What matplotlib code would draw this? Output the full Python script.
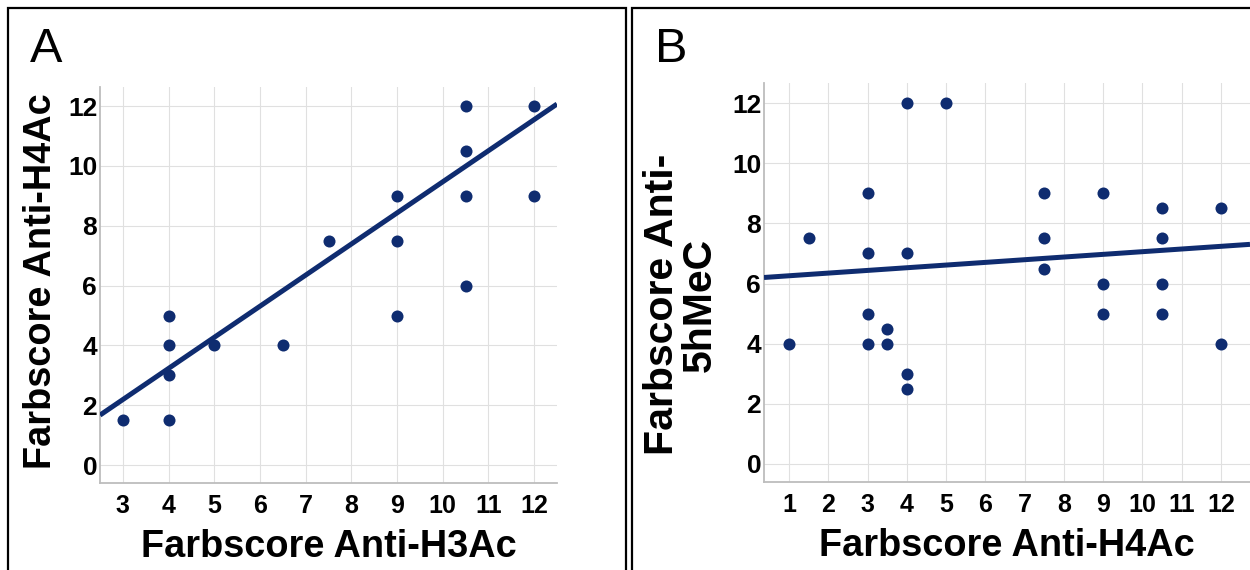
import matplotlib
matplotlib.use("Agg")
import matplotlib.pyplot as plt
from matplotlib.patches import Rectangle
import numpy as np

# ---- data ----
a_x = [3, 4, 4, 4, 4, 5, 6.5, 7.5, 9, 9, 9, 10.5, 10.5, 10.5, 10.5, 12, 12]
a_y = [1.5, 5, 4, 3, 1.5, 4, 4, 7.5, 9, 7.5, 5, 12, 10.5, 9, 6, 12, 9]
a_fit = [-0.93, 1.04]          # intercept, slope
a_xticks = [3, 4, 5, 6, 7, 8, 9, 10, 11, 12]
a_yticks = [0, 2, 4, 6, 8, 10, 12]
a_xlabel = "Farbscore Anti-H3Ac"
a_ylabel = "Farbscore Anti-H4Ac"

b_x = [1, 1.5, 3, 3, 3, 3, 3.5, 3.5, 4, 4, 4, 4, 5, 7.5, 7.5, 7.5, 9, 9, 9,
       10.5, 10.5, 10.5, 10.5, 12, 12]
b_y = [4, 7.5, 9, 7, 5, 4, 4.5, 4, 12, 7, 3, 2.5, 12, 9, 7.5, 6.5, 9, 6, 5,
       8.5, 7.5, 6, 5, 8.5, 4]
b_fit = [6.17, 0.089]
b_xticks = [1, 2, 3, 4, 5, 6, 7, 8, 9, 10, 11, 12]
b_yticks = [0, 2, 4, 6, 8, 10, 12]
b_xlabel = "Farbscore Anti-H4Ac"
b_ylabel = "Farbscore Anti-\n5hMeC"

NAVY = "#0f2c70"
GRID = "#e0e0e0"
SPINE = "#bdbdbd"
FONT = "Liberation Sans"

W, H = 1250, 570
fig = plt.figure(figsize=(12.5, 5.7), dpi=100)
plt.rcParams['font.family'] = [FONT, 'DejaVu Sans']


def px_rect(l, t, r, b):
    return [l / W, 1 - b / H, (r - l) / W, (b - t) / H]


def style(ax, xs, ys, fit, xticks, yticks, xlim, ylim, xlabel, ylabel,
          ylab_x, ylab_y, ylab_size):
    ax.set_xlim(*xlim)
    ax.set_ylim(*ylim)
    ax.set_xticks(xticks)
    ax.set_yticks(yticks)
    ax.grid(True, color=GRID, lw=0.8, zorder=0)
    ax.set_axisbelow(True)
    for s in ("top", "right"):
        ax.spines[s].set_visible(False)
    for s in ("left", "bottom"):
        ax.spines[s].set_color(SPINE)
        ax.spines[s].set_linewidth(1.3)
    ax.tick_params(length=0, pad=2)
    ax.tick_params(axis="x", labelsize=18, pad=8)
    ax.tick_params(axis="y", labelsize=19)
    for lab in ax.get_xticklabels() + ax.get_yticklabels():
        lab.set_fontweight("bold")
    ax.scatter(xs, ys, s=75, color=NAVY, zorder=3, linewidths=0)
    lx = np.array(xlim)
    ax.plot(lx, fit[0] + fit[1] * lx, color=NAVY, lw=3.6, zorder=4,
            solid_capstyle="butt")
    ax.set_xlabel(xlabel, fontsize=27.3, fontweight="bold", labelpad=8)
    ax.set_ylabel(ylabel, fontsize=ylab_size, fontweight="bold",
                  linespacing=1.0, multialignment="center")
    ax.yaxis.set_label_coords(ylab_x, ylab_y)


axA = fig.add_axes(px_rect(100, 87, 557, 483))
style(axA, a_x, a_y, a_fit, a_xticks, a_yticks, (2.5, 12.5), (-0.6, 12.64),
      a_xlabel, a_ylabel, -0.09, 0.511, 27.3)

axB = fig.add_axes(px_rect(764, 83, 1250, 482))
style(axB, b_x, b_y, b_fit, b_xticks, b_yticks, (0.36, 12.74), (-0.6, 12.67),
      b_xlabel, b_ylabel, -0.092, 0.444, 29.5)

# panel borders
for (l, t, r, b) in [(8, 8, 626, 575), (632, 8, 1260, 575)]:
    fig.patches.append(Rectangle((l / W, 1 - b / H), (r - l) / W, (b - t) / H,
                                 transform=fig.transFigure, fill=False,
                                 edgecolor="black", lw=1.6, zorder=10))

fig.text(30 / W, 1 - 62 / H, "A", fontsize=35, va="baseline", ha="left")
fig.text(655 / W, 1 - 62 / H, "B", fontsize=35, va="baseline", ha="left")

fig.savefig("out.png", dpi=100)
